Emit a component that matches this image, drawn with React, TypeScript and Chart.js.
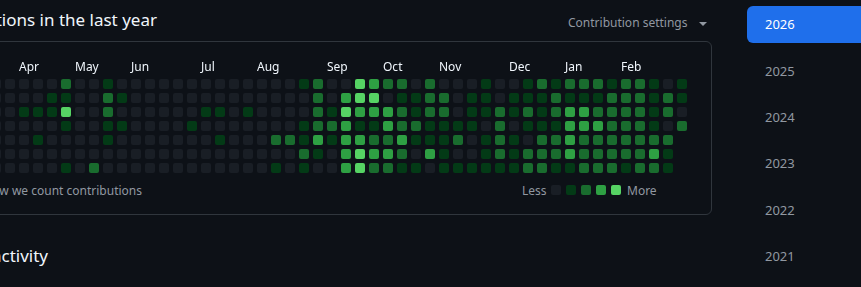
import React, { useEffect, useRef } from 'react';
import { Chart, registerables } from 'chart.js';

Chart.register(...registerables);

// ---- data ----
const monthNames = ['Apr', 'May', 'Jun', 'Jul', 'Aug', 'Sep', 'Oct', 'Nov', 'Dec', 'Jan', 'Feb'];
const monthStartWeek = [2, 6, 10, 15, 19, 24, 28, 32, 37, 41, 45];
const weekCount = 50;
const dayNames = ['Sun', 'Mon', 'Tue', 'Wed', 'Thu', 'Fri', 'Sat'];

// contribution level (0-4) per week, one array per weekday
const sun = [0,0,0,0,0,2,0,0,1,0, 0,0,0,0,0,0,0,0,0,0, 0,0,1,2,0,0,4,3,2,2, 0,2,0,0,0,1,0,0,1,2, 1,2,2,2,1,2,2,1,0,1];
const mon = [0,0,0,0,1,1,0,0,2,1, 0,0,0,0,0,0,0,0,0,0, 0,0,0,2,0,3,4,4,0,1, 1,2,2,0,1,1,0,1,1,1, 2,1,1,1,2,2,2,1,2,1];
const tue = [0,0,1,1,1,4,0,0,2,0, 0,0,0,0,0,1,1,0,1,0, 0,0,0,2,1,4,3,3,3,2, 1,2,2,0,1,1,2,1,2,1, 2,3,3,2,2,2,2,1,2,0];
const wed = [0,0,0,0,0,1,0,0,1,1, 0,0,0,0,1,0,0,0,0,0, 0,0,1,2,2,3,1,1,3,2, 2,1,1,1,1,0,2,0,1,1, 1,3,3,3,2,2,2,1,0,2];
const thu = [0,0,0,1,0,0,0,0,1,0, 0,0,0,0,0,0,1,0,0,0, 2,2,1,3,1,3,3,2,2,3, 1,1,1,2,0,1,2,1,0,2, 2,3,2,2,2,2,2,2,2,null];
const fri = [0,0,0,0,0,0,0,0,0,0, 0,0,0,0,0,0,0,0,0,0, 0,0,2,1,0,3,4,3,3,2, 0,3,1,0,0,1,2,1,2,2, 2,3,2,2,2,2,2,3,1,null];
const sat = [0,0,0,0,0,1,0,2,0,0, 0,0,0,0,0,0,0,0,0,0, 1,0,1,0,0,3,4,2,2,1, 1,0,1,1,1,1,1,1,2,2, 1,1,2,2,2,1,2,2,1,null];
const dayRows = [sun, mon, tue, wed, thu, fri, sat];

const levelColors = ['#191e25', '#033a16', '#196c2e', '#2ea043', '#56d364'];
const yearList = ['2026', '2025', '2024', '2023', '2022', '2021'];

const FONT = '"Noto Sans", "Open Sans", sans-serif';

const weekLabels = Array.from({ length: weekCount }, (_, i) => {
  const m = monthStartWeek.indexOf(i);
  return m >= 0 ? monthNames[m] : '';
});

function Txt(props: { x: number; baseline: number; size: number; color: string; text: string; align?: 'left' | 'right'; weight?: number }) {
  const { x, baseline, size, color, text, align = 'left', weight = 400 } = props;
  const style: React.CSSProperties = {
    position: 'absolute',
    top: baseline - 0.888 * size,
    fontSize: size,
    lineHeight: 1,
    color,
    fontFamily: FONT,
    fontWeight: weight,
    whiteSpace: 'nowrap',
  };
  if (align === 'right') style.right = 861 - x;
  else style.left = x;
  return <div style={style}>{text}</div>;
}

function ContributionChart() {
  const ref = useRef<HTMLCanvasElement | null>(null);
  useEffect(() => {
    if (!ref.current) return;
    const chart = new Chart(ref.current, {
      type: 'bar',
      data: {
        labels: weekLabels,
        datasets: dayRows.map((row, r) => ({
          label: dayNames[r],
          data: row.map((v) => (v === null ? null : [r - 0.357, r + 0.357])) as any,
          backgroundColor: row.map((v) => levelColors[v ?? 0]),
          barThickness: 10,
          borderRadius: 2,
          borderSkipped: false,
          borderWidth: 0,
          inflateAmount: 0,
          grouped: false,
        })),
      },
      options: {
        responsive: false,
        animation: false,
        events: [],
        layout: { padding: 0 },
        plugins: { legend: { display: false }, tooltip: { enabled: false } },
        scales: {
          x: {
            type: 'category',
            position: 'top',
            offset: true,
            grid: { display: false, drawTicks: false },
            border: { display: false },
            ticks: {
              autoSkip: false,
              maxRotation: 0,
              minRotation: 0,
              align: 'start',
              labelOffset: -5,
              padding: 2,
              color: '#f0f6fc',
              font: { family: FONT, size: 12 },
            },
            afterFit: (s: any) => {
              s.height = 20;
            },
          },
          y: { type: 'linear', reverse: true, min: -0.5, max: 6.5, display: false },
        },
      } as any,
    });
    return () => chart.destroy();
  }, []);
  return (
    <canvas
      ref={ref}
      width={700}
      height={118}
      style={{ position: 'absolute', left: -11, top: 57, width: 700, height: 118, display: 'block' }}
    />
  );
}

export default function App() {
  useEffect(() => {
    document.body.style.margin = '0';
    document.body.style.background = '#0d1117';
  }, []);
  return (
    <div
      style={{
        position: 'fixed',
        left: 0,
        top: 0,
        width: 861,
        height: 287,
        overflow: 'hidden',
        background: '#0d1117',
        fontFamily: FONT,
      }}
    >
      <Txt x={157} baseline={26} size={17} color="#f0f6fc" text="contributions in the last year" align="right" />
      <Txt x={568} baseline={28} size={12} color="#9198a1" text="Contribution settings" />
      <div
        style={{
          position: 'absolute',
          left: 699,
          top: 22,
          width: 0,
          height: 0,
          borderLeft: '4px solid transparent',
          borderRight: '4px solid transparent',
          borderTop: '4px solid #9198a1',
        }}
      />
      <div
        style={{
          position: 'absolute',
          left: -20,
          top: 41,
          width: 732,
          height: 174,
          boxSizing: 'border-box',
          border: '1px solid #30363d',
          borderRadius: 6,
        }}
      />
      <ContributionChart />
      <Txt x={142} baseline={196} size={12} color="#9198a1" text="Learn how we count contributions" align="right" />
      <Txt x={522} baseline={196} size={12} color="#9198a1" text="Less" />
      {levelColors.map((c, i) => (
        <div
          key={c}
          style={{
            position: 'absolute',
            left: 551 + i * 15,
            top: 185,
            width: 10,
            height: 10,
            borderRadius: 2,
            background: c,
          }}
        />
      ))}
      <Txt x={627} baseline={196} size={12} color="#9198a1" text="More" />
      <Txt x={48} baseline={262.5} size={17} color="#f0f6fc" text="Contribution activity" align="right" />
      <div
        style={{
          position: 'absolute',
          left: 747,
          top: 6,
          width: 140,
          height: 37,
          borderRadius: 6,
          background: '#1f6feb',
        }}
      />
      {yearList.map((y, i) => (
        <Txt
          key={y}
          x={765}
          baseline={30 + i * 46.3}
          size={13}
          color={i === 0 ? '#ffffff' : '#9198a1'}
          text={y}
        />
      ))}
    </div>
  );
}
